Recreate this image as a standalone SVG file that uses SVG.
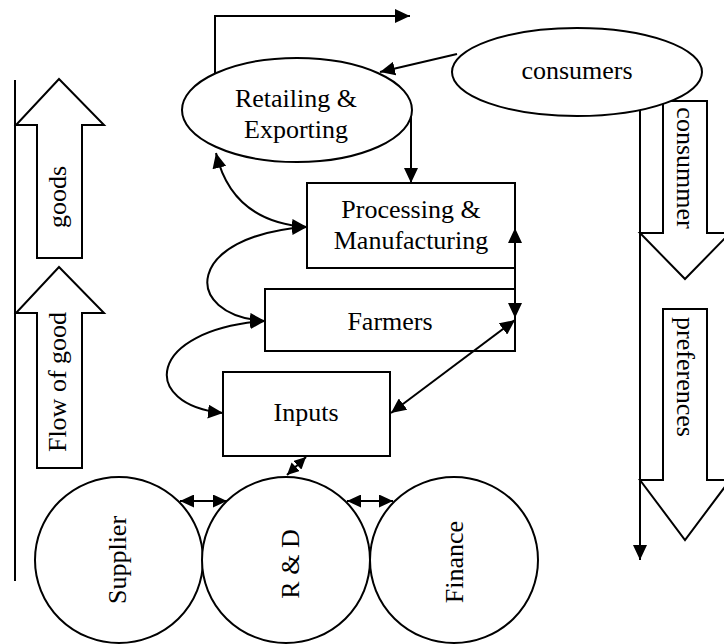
<svg xmlns="http://www.w3.org/2000/svg" width="724" height="644" viewBox="0 0 724 644">
<defs>
<marker id="ah" viewBox="0 0 15 14" refX="15" refY="7" markerWidth="15" markerHeight="14" markerUnits="userSpaceOnUse" orient="auto-start-reverse">
<path d="M0,0 L15,7 L0,14 z" fill="#000"/>
</marker>
<marker id="ahs" viewBox="0 0 14 13" refX="14" refY="6.5" markerWidth="14" markerHeight="13" markerUnits="userSpaceOnUse" orient="auto-start-reverse">
<path d="M0,0 L14,6.5 L0,13 z" fill="#000"/>
</marker>
<marker id="ahd" viewBox="0 0 12 12" refX="12" refY="6" markerWidth="12" markerHeight="12" markerUnits="userSpaceOnUse" orient="auto-start-reverse">
<path d="M0,0 L12,6 L0,12 z" fill="#000"/>
</marker>
<style>
.s{fill:#fff;stroke:#000;stroke-width:2}
.c{fill:none;stroke:#000;stroke-width:2}
.t{font-family:"Liberation Serif","Times New Roman",serif;font-size:26px;fill:#000;text-anchor:middle}
</style>
</defs>
<rect width="724" height="644" fill="#fff"/>

<g id="goods-arrow">
<polygon class="s" points="59,79 104,125 82,125 82,258 37,258 37,125 16,125"/>
<text class="t" transform="translate(66,197) rotate(-90)">goods</text>
</g>
<g id="flow-arrow">
<polygon class="s" points="59,267 104,313 82,313 82,468 37,468 37,313 16,313"/>
<text class="t" transform="translate(66,382) rotate(-90)">Flow of good</text>
</g>

<g id="consummer-arrow">
<polygon class="s" points="663,101 707,101 707,233 730,233 685,279 640,233 663,233"/>
<text class="t" transform="translate(677,168) rotate(90)">consummer</text>
</g>
<g id="preferences-arrow">
<polygon class="s" points="663,309 707,309 707,480 730,480 685,540 640,480 663,480"/>
<text class="t" transform="translate(677,377) rotate(90)">preferences</text>
</g>

<g id="retailing">
<ellipse class="s" cx="297" cy="110" rx="115" ry="52"/>
<text class="t" x="296" y="107">Retailing &amp;</text>
<text class="t" x="296" y="138">Exporting</text>
</g>
<g id="consumers">
<ellipse class="s" cx="577" cy="72" rx="125" ry="44"/>
<text class="t" x="577" y="79">consumers</text>
</g>
<g id="processing">
<rect class="s" x="307" y="183" width="208" height="85"/>
<text class="t" x="411" y="218">Processing &amp;</text>
<text class="t" x="411" y="249">Manufacturing</text>
</g>
<g id="farmers">
<rect class="s" x="265" y="289" width="250" height="62"/>
<text class="t" x="390" y="330">Farmers</text>
</g>
<g id="inputs">
<rect class="s" x="223" y="372" width="167" height="84"/>
<text class="t" x="306" y="421">Inputs</text>
</g>
<g id="supplier">
<ellipse class="s" cx="119" cy="560" rx="84" ry="83"/>
<text class="t" transform="translate(126,560) rotate(-90)">Supplier</text>
</g>
<g id="rd">
<ellipse class="s" cx="286" cy="560" rx="84" ry="83"/>
<text class="t" transform="translate(299,564) rotate(-90)">R &amp; D</text>
</g>
<g id="finance">
<ellipse class="s" cx="454" cy="560" rx="84" ry="83"/>
<text class="t" transform="translate(463,562) rotate(-90)">Finance</text>
</g>

<g id="connectors">
<line class="c" x1="15" y1="80" x2="15" y2="581"/>
<polyline class="c" points="215,73 215,16 410,16" marker-end="url(#ah)"/>
<line class="c" x1="457" y1="54" x2="380" y2="72" marker-end="url(#ah)"/>
<line class="c" x1="411" y1="116" x2="411" y2="183" marker-end="url(#ah)"/>
<path class="c" d="M216,153 Q232,222 307,227" marker-start="url(#ah)" marker-end="url(#ah)"/>
<path class="c" d="M307,227 C185,235 180,315 265,321" marker-start="url(#ah)" marker-end="url(#ah)"/>
<path class="c" d="M265,321 C145,330 140,405 223,413" marker-start="url(#ah)" marker-end="url(#ah)"/>
<line class="c" x1="515" y1="228" x2="515" y2="318" marker-start="url(#ah)" marker-end="url(#ah)"/>
<line class="c" x1="391" y1="413" x2="515" y2="320" marker-start="url(#ah)" marker-end="url(#ah)"/>
<line class="c" x1="287" y1="475" x2="306" y2="457" marker-start="url(#ahd)" marker-end="url(#ahd)"/>
<line class="c" x1="180" y1="501" x2="227" y2="501" marker-start="url(#ahs)" marker-end="url(#ahs)"/>
<line class="c" x1="347" y1="501" x2="393" y2="501" marker-start="url(#ahs)" marker-end="url(#ahs)"/>
<line class="c" x1="640" y1="110" x2="640" y2="560" marker-end="url(#ah)"/>
</g>
</svg>
